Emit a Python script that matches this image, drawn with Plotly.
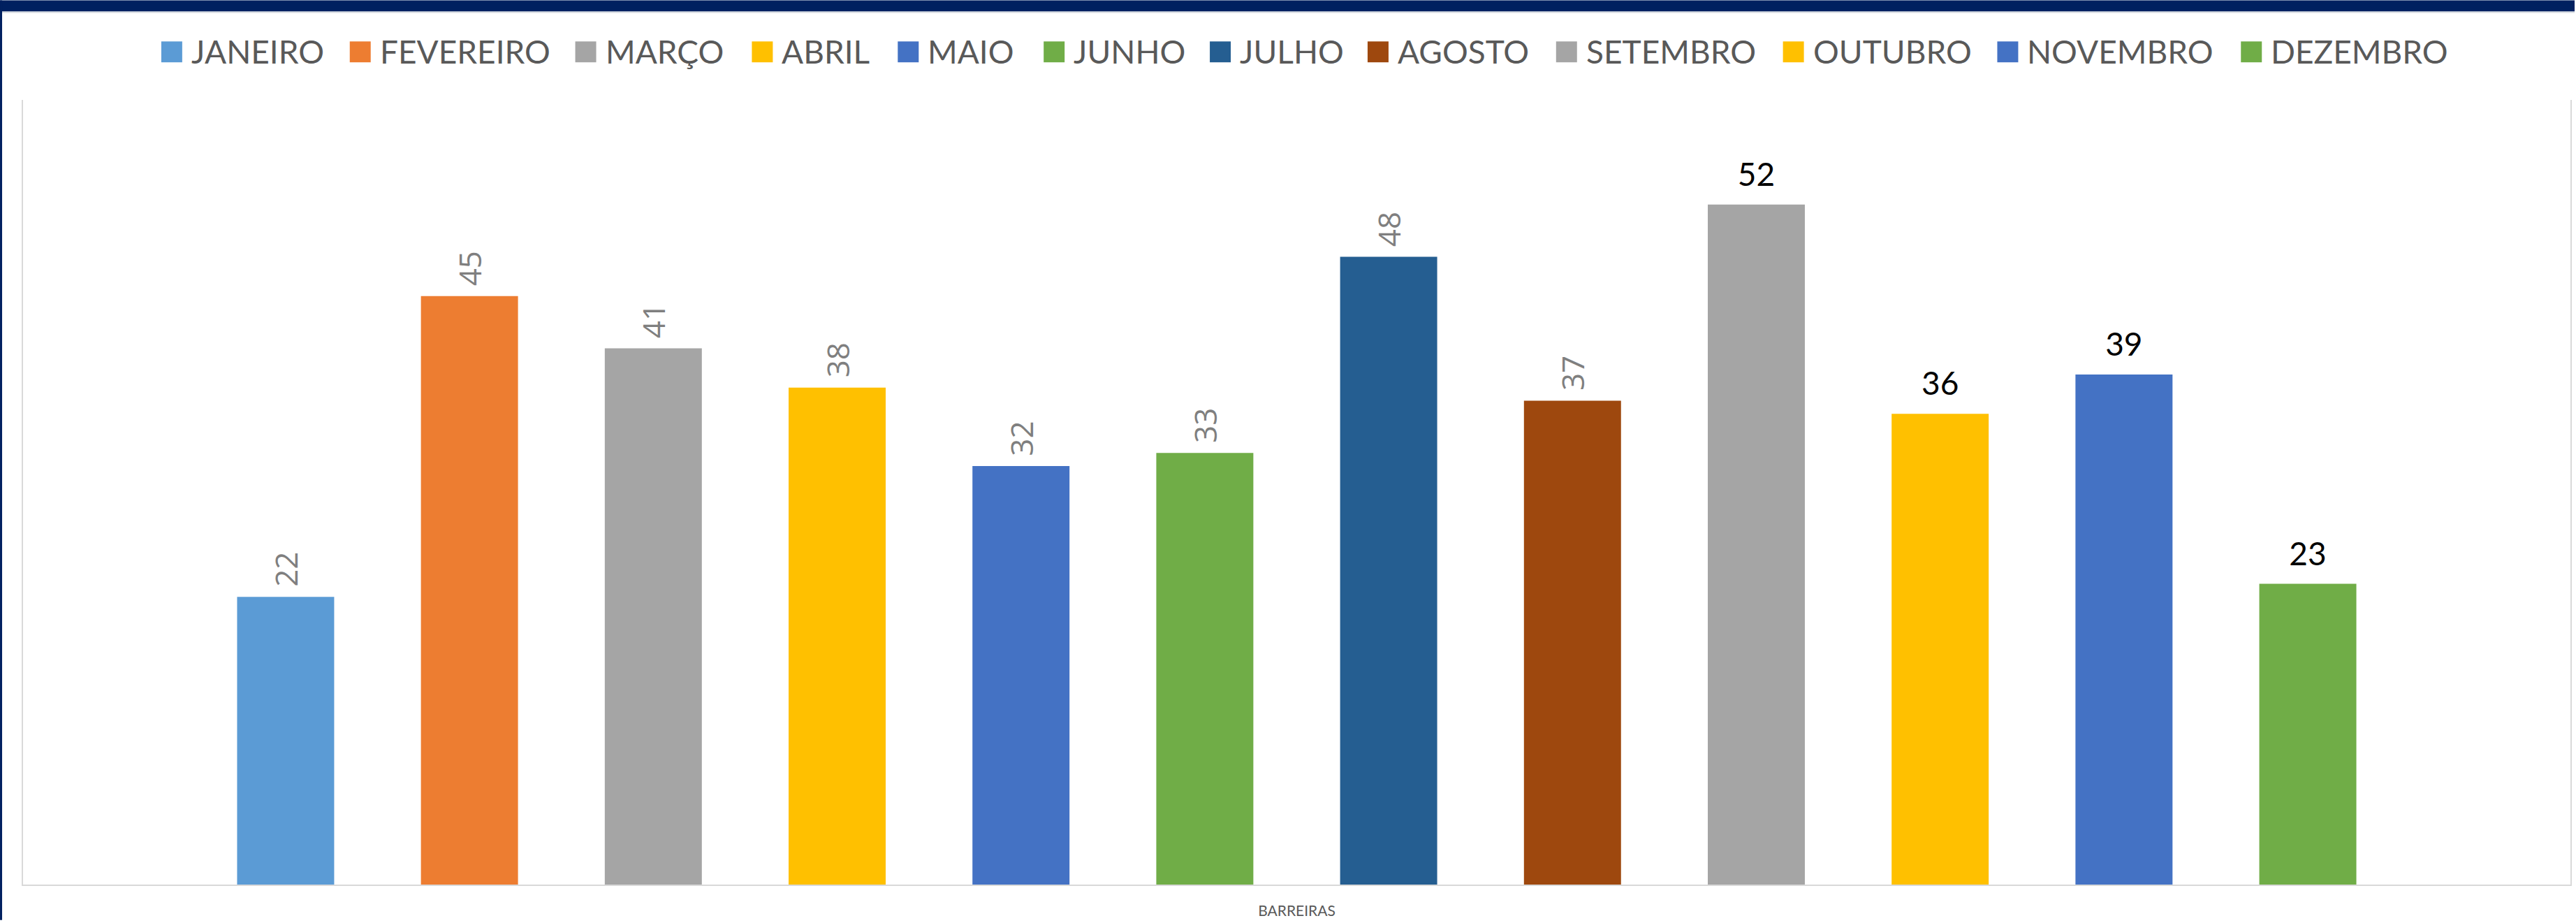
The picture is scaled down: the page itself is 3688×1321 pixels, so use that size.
import plotly.graph_objects as go

# dados: barreiras por mes
meses = ["JANEIRO", "FEVEREIRO", "MARÇO", "ABRIL", "MAIO", "JUNHO",
         "JULHO", "AGOSTO", "SETEMBRO", "OUTUBRO", "NOVEMBRO", "DEZEMBRO"]
valores = [22, 45, 41, 38, 32, 33, 48, 37, 52, 36, 39, 23]
categoria = ["BARREIRAS"]

# cores de cada mes (paleta do excel)
cores = ["#5b9bd5", "#ed7d31", "#a5a5a5", "#ffc000", "#4472c4", "#70ad47",
         "#255e91", "#9e480e", "#a5a5a5", "#ffc000", "#4472c4", "#70ad47"]

# os 8 primeiros rotulos estao girados e cinza, os 4 ultimos normais e pretos
rotulo_girado = [True] * 8 + [False] * 4

# tamanho da pagina e area do grafico (pixels)
W, H = 3688, 1321
L, R, T, B = 33, 6, 143, 51
PW, PH = W - L - R, H - T - B


def px_x(x):
    return (x - L) / PW


def px_y(y):
    return (H - B - y) / PH


# posicao horizontal dos quadrados da legenda
legenda_x = [231, 501, 824, 1077, 1286, 1495, 1733, 1959, 2229, 2554, 2861, 3210]

fig = go.Figure()

for i, mes in enumerate(meses):
    if rotulo_girado[i]:
        # espaco antes do numero para afastar o rotulo da barra
        fonte = dict(family="Open Sans", size=44, color="#7f7f7f")
        modelo = "\u00a0%{y}"
        angulo = -90
    else:
        # segunda linha pequena e vazia para afastar o rotulo da barra
        fonte = dict(family="Lato", size=16, color="#000000")
        modelo = "<span style='font-size:46px'>%{y}</span><br>\u00a0"
        angulo = 0
    fig.add_trace(go.Bar(
        x=categoria, y=[valores[i]], name=mes,
        marker=dict(color=cores[i], line=dict(width=0)),
        texttemplate=modelo, textposition="outside", textangle=angulo,
        outsidetextfont=fonte, constraintext="none", cliponaxis=False,
        showlegend=False,
    ))

# legenda desenhada a mao (quadrados grandes como no excel)
for i, mes in enumerate(meses):
    x0 = legenda_x[i]
    fig.add_shape(type="rect", xref="paper", yref="paper",
                  x0=px_x(x0), x1=px_x(x0 + 30), y0=px_y(89), y1=px_y(59),
                  fillcolor=cores[i], line=dict(width=0))
    fig.add_annotation(xref="paper", yref="paper", x=px_x(x0 + 41), y=px_y(73),
                       xanchor="left", yanchor="middle", showarrow=False,
                       text=mes, font=dict(family="Lato", size=46, color="#595959"))

# faixa azul no topo e borda esquerda
fig.add_shape(type="rect", xref="paper", yref="paper",
              x0=px_x(0), x1=px_x(W), y0=px_y(16), y1=px_y(0),
              fillcolor="#002060", line=dict(width=0))
fig.add_shape(type="rect", xref="paper", yref="paper",
              x0=px_x(0), x1=px_x(W), y0=px_y(18), y1=px_y(16),
              fillcolor="#d6d9e0", line=dict(width=0))
fig.add_shape(type="rect", xref="paper", yref="paper",
              x0=px_x(0), x1=px_x(3), y0=px_y(H), y1=px_y(0),
              fillcolor="#002060", line=dict(width=0))

fig.update_layout(
    width=W, height=H,
    margin=dict(l=L, r=R, t=T, b=B, pad=0),
    paper_bgcolor="white", plot_bgcolor="white",
    barmode="group", bargap=0.134, bargroupgap=0.472,
    showlegend=False,
    font=dict(family="Lato", color="#595959"),
)
fig.update_xaxes(showline=True, linecolor="#d9d9d9", linewidth=2,
                 ticks="", showgrid=False, ticklabelstandoff=18,
                 tickfont=dict(family="Lato", size=21, color="#595959"))
fig.update_yaxes(range=[0, 60], showline=True, linecolor="#d9d9d9", linewidth=2,
                 mirror=True, showticklabels=False, ticks="", showgrid=False,
                 zeroline=False)

fig.write_html("out.html", config={"displayModeBar": False},
               post_script="document.body.style.margin='0';")
